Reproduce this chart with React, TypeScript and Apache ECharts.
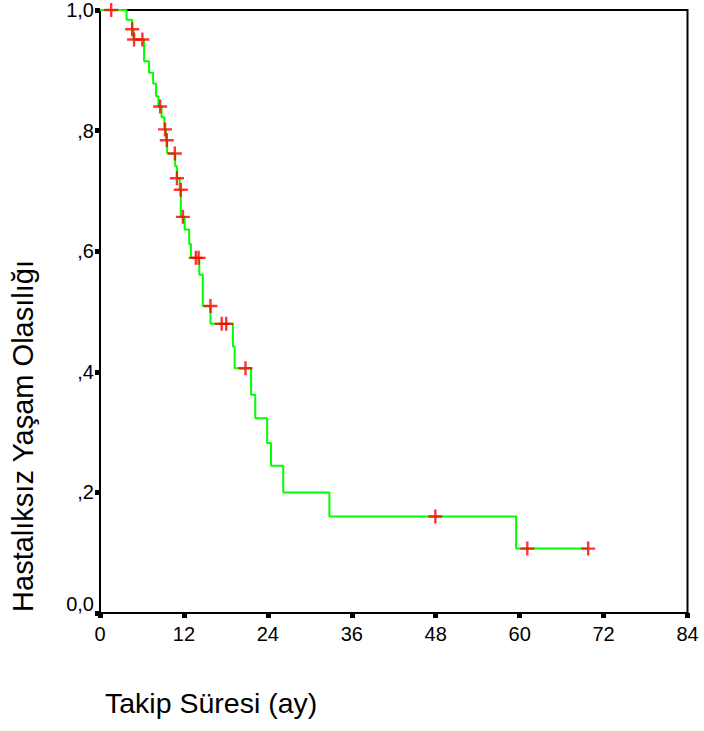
import React, { useEffect, useRef } from "react";
import * as echarts from "echarts";

// Kaplan-Meier step points: time of event (months) and survival after the drop
const stepTimes = [0, 3.8, 4.6, 4.8, 6.3, 7.0, 7.6, 8.0, 8.35, 8.8, 9.2, 9.45, 9.6, 10.75, 11.0, 11.4, 11.55, 12.1, 12.75, 13.0, 14.2, 14.7, 15.8, 19.0, 19.25, 21.6, 22.2, 23.9, 24.45, 26.2, 32.8, 59.5, 69.8];
const stepSurvival = [1.0, 0.984, 0.968, 0.951, 0.915, 0.896, 0.878, 0.857, 0.84, 0.822, 0.802, 0.784, 0.762, 0.741, 0.721, 0.702, 0.657, 0.636, 0.612, 0.589, 0.561, 0.509, 0.4795, 0.442, 0.406, 0.362, 0.323, 0.282, 0.244, 0.2, 0.16, 0.1068, 0.1068];

// Censored observations
const censorTimes = [1.6, 4.6, 4.87, 6.06, 8.6, 9.3, 9.55, 10.7, 11.0, 11.55, 11.85, 13.7, 14.1, 15.8, 17.4, 18.05, 20.8, 47.95, 61.1, 69.8];
const censorSurvival = [1.0, 0.968, 0.951, 0.951, 0.84, 0.802, 0.784, 0.762, 0.721, 0.702, 0.657, 0.589, 0.589, 0.509, 0.4795, 0.4795, 0.406, 0.16, 0.1068, 0.1068];

const xTicks = [0, 12, 24, 36, 48, 60, 72, 84];
const yTickLabels: Record<string, string> = { "0": "0,0", "0.2": ",2", "0.4": ",4", "0.6": ",6", "0.8": ",8", "1": "1,0" };

const xTitle = "Takip Süresi (ay)";
const yTitle = "Hastalıksız Yaşam Olasılığı";

const FONT = "'Liberation Sans', Arial, sans-serif";
const PLUS = "path://M5.8,0 H8.2 V5.8 H14 V8.2 H8.2 V14 H5.8 V8.2 H0 V5.8 H5.8 Z";

export default function App() {
  const ref = useRef<HTMLDivElement>(null);
  useEffect(() => {
    document.body.style.margin = "0";
    const chart = echarts.init(ref.current!, null, { renderer: "svg" });
    chart.setOption({
      animation: false,
      backgroundColor: "#ffffff",
      grid: {
        left: 100,
        top: 9.5,
        right: 16.5,
        bottom: 118,
        show: true,
        borderColor: "#000",
        borderWidth: 2,
        containLabel: false,
      },
      xAxis: {
        type: "value",
        min: 0,
        max: xTicks[xTicks.length - 1],
        interval: 12,
        splitLine: { show: false },
        axisLine: { show: true, onZero: false, lineStyle: { color: "#000", width: 2 } },
        axisTick: { show: true, inside: false, length: 5, lineStyle: { color: "#000", width: 5 } },
        axisLabel: { color: "#000", fontFamily: FONT, fontSize: 20, margin: 11 },
      },
      yAxis: {
        type: "value",
        min: 0,
        max: 1,
        interval: 0.2,
        splitLine: { show: false },
        axisLine: { show: true, onZero: false, lineStyle: { color: "#000", width: 2 } },
        axisTick: { show: true, inside: false, length: 5, lineStyle: { color: "#000", width: 5 } },
        axisLabel: {
          color: "#000",
          fontFamily: FONT,
          fontSize: 20,
          margin: 6,
          formatter: (v: number) => {
            const key = String(Math.round(v * 10) / 10);
            const s = yTickLabels[key] ?? String(v);
            return v === 0 ? "{z|" + s + "}" : s;
          },
          rich: { z: { fontFamily: FONT, fontSize: 20, color: "#000", padding: [0, 0, 18, 0] } },
        },
      },
      graphic: [
        {
          type: "text",
          left: 105,
          top: 688,
          style: { text: xTitle, font: "28.5px " + FONT, fill: "#000" },
        },
        {
          type: "text",
          x: 23,
          y: 436,
          rotation: Math.PI / 2,
          style: {
            text: yTitle,
            font: "29px " + FONT,
            fill: "#000",
            align: "center",
            verticalAlign: "middle",
          },
        },
      ],
      series: [
        {
          type: "line",
          step: "end",
          showSymbol: false,
          data: stepTimes.map((t, i) => [t, stepSurvival[i]]),
          lineStyle: { color: "#00ff00", width: 2 },
          z: 2,
        },
        {
          type: "scatter",
          symbol: PLUS,
          symbolSize: 14,
          data: censorTimes.map((t, i) => [t, censorSurvival[i]]),
          itemStyle: { color: "#ff0000" },
          z: 3,
        },
      ],
    });
    return () => chart.dispose();
  }, []);
  return <div ref={ref} style={{ width: 704, height: 731 }} />;
}
